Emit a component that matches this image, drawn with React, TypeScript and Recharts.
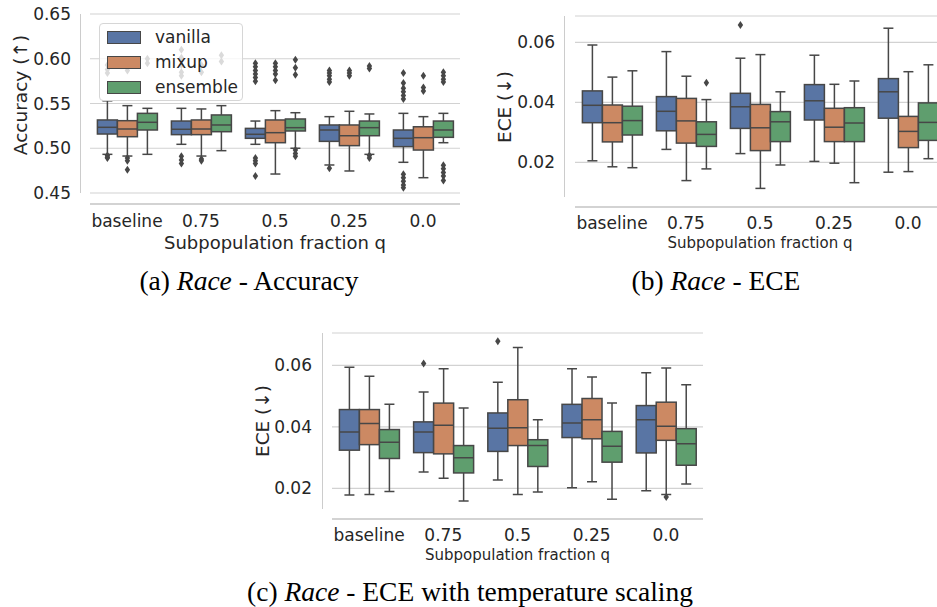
import { BarChart, Bar, XAxis, YAxis, CartesianGrid, Legend } from "recharts";

const categories = ["baseline", "0.75", "0.5", "0.25", "0.0"];
const methods = ["vanilla", "mixup", "ensemble"];
const colors = ["#5975a4", "#cc8963", "#5f9e6e"];

// each entry: [lower whisker, q1, median, q3, upper whisker], one per category
const accVanilla = [
  [0.4932, 0.5159, 0.5234, 0.5316, 0.553],
  [0.5044, 0.5152, 0.5212, 0.5304, 0.5446],
  [0.5044, 0.5111, 0.5156, 0.5222, 0.5304],
  [0.4813, 0.5077, 0.5204, 0.526, 0.5353],
  [0.4843, 0.5018, 0.5111, 0.5204, 0.539],
];
const accMixup = [
  [0.4913, 0.5129, 0.5215, 0.5308, 0.5476],
  [0.4913, 0.5152, 0.5215, 0.5316, 0.5439],
  [0.4712, 0.5062, 0.5174, 0.5316, 0.542],
  [0.4746, 0.5029, 0.514, 0.526, 0.5413],
  [0.4671, 0.498, 0.5118, 0.524, 0.5353],
];
const accEnsemble = [
  [0.4932, 0.5204, 0.529, 0.539, 0.5446],
  [0.4973, 0.5185, 0.526, 0.5372, 0.5476],
  [0.5, 0.5193, 0.523, 0.5327, 0.5397],
  [0.4932, 0.514, 0.523, 0.5304, 0.5383],
  [0.5062, 0.5122, 0.5204, 0.5304, 0.539],
];
const accVanillaOut = [
  [0.593, 0.588, 0.584, 0.492, 0.49, 0.489],
  [0.61, 0.601, 0.593, 0.585, 0.581, 0.491, 0.487, 0.483],
  [0.595, 0.591, 0.587, 0.583, 0.579, 0.575, 0.489, 0.486, 0.483, 0.469],
  [0.587, 0.584, 0.581, 0.577, 0.574, 0.4776],
  [0.584, 0.573, 0.567, 0.563, 0.559, 0.555, 0.471, 0.467, 0.463, 0.459, 0.456],
];
const accMixupOut = [
  [0.587, 0.489, 0.486, 0.476],
  [0.593, 0.585, 0.488, 0.486],
  [0.595, 0.591, 0.587, 0.583, 0.576],
  [0.587, 0.584, 0.581],
  [0.581, 0.568, 0.564],
];
const accEnsembleOut = [
  [0.6, 0.595],
  [0.604, 0.597],
  [0.599, 0.59, 0.582, 0.498, 0.494, 0.491],
  [0.592, 0.589, 0.492, 0.489],
  [0.585, 0.581, 0.577, 0.574, 0.481, 0.477, 0.473, 0.469, 0.464],
];

const eceVanilla = [
  [0.0205, 0.0332, 0.039, 0.0438, 0.0591],
  [0.0243, 0.0305, 0.037, 0.0419, 0.0569],
  [0.0229, 0.0313, 0.0385, 0.043, 0.0547],
  [0.0203, 0.0341, 0.0405, 0.0459, 0.0557],
  [0.0167, 0.0347, 0.0435, 0.0479, 0.0647],
];
const eceMixup = [
  [0.0185, 0.0268, 0.0332, 0.0391, 0.0484],
  [0.0139, 0.0264, 0.0338, 0.0413, 0.0487],
  [0.0113, 0.0239, 0.0315, 0.0393, 0.0559],
  [0.0197, 0.0269, 0.0317, 0.038, 0.046],
  [0.0169, 0.0249, 0.0303, 0.0353, 0.0502],
];
const eceEnsemble = [
  [0.0182, 0.0291, 0.0339, 0.0387, 0.0505],
  [0.0178, 0.0253, 0.0293, 0.0335, 0.0409],
  [0.0191, 0.0269, 0.0335, 0.0369, 0.0435],
  [0.0132, 0.0269, 0.0331, 0.0382, 0.0471],
  [0.0212, 0.0273, 0.0333, 0.0398, 0.0525],
];
const eceVanillaOut = [[], [], [0.0658], [], []];
const eceMixupOut = [[], [], [], [], []];
const eceEnsembleOut = [[], [0.0465], [], [], []];

const tsVanilla = [
  [0.0178, 0.0324, 0.0383, 0.0456, 0.0594],
  [0.0253, 0.0316, 0.0383, 0.0416, 0.0513],
  [0.0227, 0.032, 0.0395, 0.0445, 0.0545],
  [0.0202, 0.0365, 0.0412, 0.0473, 0.0589],
  [0.0192, 0.0315, 0.0423, 0.0469, 0.0576],
];
const tsMixup = [
  [0.018, 0.0342, 0.0411, 0.0456, 0.0564],
  [0.0233, 0.0312, 0.0405, 0.0477, 0.0589],
  [0.018, 0.0339, 0.0397, 0.0488, 0.0658],
  [0.0221, 0.0361, 0.0423, 0.0492, 0.0562],
  [0.018, 0.0356, 0.0402, 0.048, 0.0591],
];
const tsEnsemble = [
  [0.019, 0.0297, 0.035, 0.0391, 0.0473],
  [0.0159, 0.025, 0.0299, 0.0339, 0.0461],
  [0.0188, 0.0271, 0.0339, 0.0358, 0.0423],
  [0.0164, 0.0285, 0.0337, 0.0385, 0.0477],
  [0.0214, 0.0275, 0.0345, 0.0394, 0.0537],
];
const tsVanillaOut = [[], [0.0606], [0.0678], [], []];
const tsMixupOut = [[], [], [], [], [0.0172]];
const tsEnsembleOut = [[], [], [], [], []];

const accTicks = [0.45, 0.5, 0.55, 0.6, 0.65];
const eceTicks = [0.02, 0.04, 0.06];

const FONT = "DejaVu Sans, sans-serif";
const SERIF = "Liberation Serif, Times New Roman, serif";
const TEXT = "#262626";
const EDGE = "#474747";
const GRID = "#d2d2d2";
const SPINE = "#cccccc";

function buildRows(stats: number[][][], outs: number[][][]) {
  return categories.map((cat, c) => {
    const row: any = { cat };
    methods.forEach((m, i) => {
      const s = stats[i][c];
      const o = outs[i][c];
      row[m] = [Math.min(s[0], ...o), Math.max(s[4], ...o)];
    });
    return row;
  });
}

const boxShape = (stats: number[][], outs: number[][], fill: string) => (props: any) => {
  const { x, y, width, height, index } = props;
  const s = stats[index];
  const o = outs[index];
  const lo = Math.min(s[0], ...o);
  const hi = Math.max(s[4], ...o);
  const top = Math.min(y, y + height);
  const h = Math.abs(height);
  const py = (v: number) => top + ((hi - v) / (hi - lo)) * h;
  const cx = x + width / 2;
  const cap = width / 4;
  const lw = 1.5;
  return (
    <g>
      <line x1={cx} x2={cx} y1={py(s[3])} y2={py(s[4])} stroke={EDGE} strokeWidth={lw} />
      <line x1={cx} x2={cx} y1={py(s[1])} y2={py(s[0])} stroke={EDGE} strokeWidth={lw} />
      <line x1={cx - cap} x2={cx + cap} y1={py(s[4])} y2={py(s[4])} stroke={EDGE} strokeWidth={lw} />
      <line x1={cx - cap} x2={cx + cap} y1={py(s[0])} y2={py(s[0])} stroke={EDGE} strokeWidth={lw} />
      <rect x={x} y={py(s[3])} width={width} height={py(s[1]) - py(s[3])} fill={fill} stroke={EDGE} strokeWidth={lw} />
      <line x1={x} x2={x + width} y1={py(s[2])} y2={py(s[2])} stroke={EDGE} strokeWidth={lw} />
      {o.map((v, k) => {
        const yy = py(v);
        return <path key={k} d={`M${cx} ${yy - 4}L${cx + 2.7} ${yy}L${cx} ${yy + 4}L${cx - 2.7} ${yy}Z`} fill={EDGE} />;
      })}
    </g>
  );
};

function LegendBox() {
  return (
    <div
      style={{
        width: 144,
        height: 78,
        boxSizing: "border-box",
        border: "1px solid #d6d6d6",
        borderRadius: 4,
        background: "rgba(255,255,255,0.8)",
        position: "relative",
        fontFamily: FONT,
        fontSize: 17,
        color: TEXT,
      }}
    >
      {methods.map((m, i) => (
        <div key={m} style={{ position: "absolute", left: 7, top: 6 + i * 25, height: 14, display: "flex", alignItems: "center" }}>
          <span style={{ display: "inline-block", width: 34, height: 13, boxSizing: "border-box", background: colors[i], border: `1.5px solid ${EDGE}` }} />
          <span style={{ marginLeft: 14, lineHeight: "14px" }}>{m}</span>
        </div>
      ))}
    </div>
  );
}

interface PanelProps {
  left: number;
  top: number;
  width: number;
  height: number;
  marginTop: number;
  marginRight: number;
  yWidth: number;
  xHeight: number;
  domain: [number, number];
  ticks: number[];
  padBottom: number;
  yTickMargin: number;
  xTickMargin: number;
  stats: number[][][];
  outs: number[][][];
  yLabel: string;
  yLabelX: number;
  yLabelY: number;
  xLabelSize: number;
  xLabelY: number;
  spineX: number;
  legend?: boolean;
}

function Panel(p: PanelProps) {
  const rows = buildRows(p.stats, p.outs);
  const plotLeft = p.yWidth;
  const plotRight = p.width - p.marginRight;
  const xMid = (plotLeft + plotRight) / 2;
  const plotBottom = p.height - p.xHeight;
  return (
    <div style={{ position: "absolute", left: p.left, top: p.top }}>
      <div
        style={{
          position: "absolute",
          left: p.spineX,
          top: p.marginTop,
          width: 1.3,
          height: plotBottom - p.padBottom - p.marginTop,
          background: SPINE,
        }}
      />
      <BarChart
        width={p.width}
        height={p.height}
        data={rows}
        margin={{ top: p.marginTop, right: p.marginRight, bottom: 0, left: 0 }}
        barCategoryGap="10%"
        barGap={0}
      >
        <CartesianGrid vertical={false} stroke={GRID} strokeWidth={1.2} />
        <XAxis
          dataKey="cat"
          height={p.xHeight}
          interval={0}
          tickSize={0}
          tickLine={false}
          tickMargin={p.xTickMargin}
          axisLine={{ stroke: SPINE, strokeWidth: 1.3 }}
          tick={{ fontSize: 17, fill: TEXT, fontFamily: FONT }}
          label={{
            content: () => (
              <text x={xMid} y={p.xLabelY} textAnchor="middle" fontSize={p.xLabelSize} fill={TEXT} fontFamily={FONT}>
                Subpopulation fraction q
              </text>
            ),
          }}
        />
        <YAxis
          type="number"
          domain={p.domain}
          ticks={p.ticks}
          allowDataOverflow
          width={p.yWidth}
          padding={{ top: 0, bottom: p.padBottom }}
          tickSize={0}
          tickLine={false}
          tickMargin={p.yTickMargin}
          axisLine={false}
          tick={{ fontSize: 17, fill: TEXT, fontFamily: FONT }}
          tickFormatter={(v: number) => v.toFixed(2)}
          label={{
            content: () => (
              <text
                x={p.yLabelX}
                y={p.yLabelY}
                transform={`rotate(-90 ${p.yLabelX} ${p.yLabelY})`}
                textAnchor="middle"
                dominantBaseline="central"
                fontSize={18.5}
                fill={TEXT}
                fontFamily={FONT}
              >
                {p.yLabel}
              </text>
            ),
          }}
        />
        {methods.map((m, i) => (
          <Bar key={m} dataKey={m} fill={colors[i]} isAnimationActive={false} shape={boxShape(p.stats[i], p.outs[i], colors[i])} />
        ))}
        {p.legend && (
          <Legend
            layout="vertical"
            align="center"
            verticalAlign="middle"
            wrapperStyle={{ left: 99, top: 23, width: 144, height: 78 }}
            content={() => <LegendBox />}
          />
        )}
      </BarChart>
    </div>
  );
}

function Caption({ cx, cy, label, rest }: { cx: number; cy: number; label: string; rest: string }) {
  return (
    <div
      style={{
        position: "absolute",
        left: cx - 300,
        top: cy - 16,
        width: 600,
        lineHeight: "32px",
        textAlign: "center",
        fontFamily: SERIF,
        fontSize: 27.5,
        color: "#000",
        whiteSpace: "nowrap",
      }}
    >
      {label} <i>Race</i> - {rest}
    </div>
  );
}

export default function App() {
  return (
    <div style={{ position: "fixed", left: 0, top: 0, width: 937, height: 607, overflow: "hidden", background: "#fff" }}>
      <Panel
        left={0}
        top={0}
        width={470}
        height={260}
        marginTop={14}
        marginRight={10}
        yWidth={90}
        xHeight={56}
        domain={[0.45, 0.65]}
        ticks={accTicks}
        padBottom={11}
        yTickMargin={19}
        xTickMargin={11}
        stats={[accVanilla, accMixup, accEnsemble]}
        outs={[accVanillaOut, accMixupOut, accEnsembleOut]}
        yLabel="Accuracy (↑)"
        yLabelX={20}
        yLabelY={95}
        xLabelSize={18}
        xLabelY={249}
        spineX={80}
        legend
      />
      <Panel
        left={470}
        top={0}
        width={475}
        height={260}
        marginTop={16}
        marginRight={0}
        yWidth={105}
        xHeight={53}
        domain={[0.00843, 0.06877]}
        ticks={eceTicks}
        padBottom={10}
        yTickMargin={20}
        xTickMargin={10}
        stats={[eceVanilla, eceMixup, eceEnsemble]}
        outs={[eceVanillaOut, eceMixupOut, eceEnsembleOut]}
        yLabel="ECE (↓)"
        yLabelX={34}
        yLabelY={107}
        xLabelSize={15}
        xLabelY={248}
        spineX={94}
      />
      <Panel
        left={240}
        top={320}
        width={463}
        height={260}
        marginTop={13}
        marginRight={0}
        yWidth={92}
        xHeight={61}
        domain={[0.01327, 0.0705]}
        ticks={eceTicks}
        padBottom={10}
        yTickMargin={20}
        xTickMargin={10}
        stats={[tsVanilla, tsMixup, tsEnsemble]}
        outs={[tsVanillaOut, tsMixupOut, tsEnsembleOut]}
        yLabel="ECE (↓)"
        yLabelX={22}
        yLabelY={101}
        xLabelSize={15}
        xLabelY={239.5}
        spineX={82}
      />
      <Caption cx={249} cy={281} label="(a)" rest="Accuracy" />
      <Caption cx={716} cy={281} label="(b)" rest="ECE" />
      <Caption cx={470} cy={592} label="(c)" rest="ECE with temperature scaling" />
    </div>
  );
}
